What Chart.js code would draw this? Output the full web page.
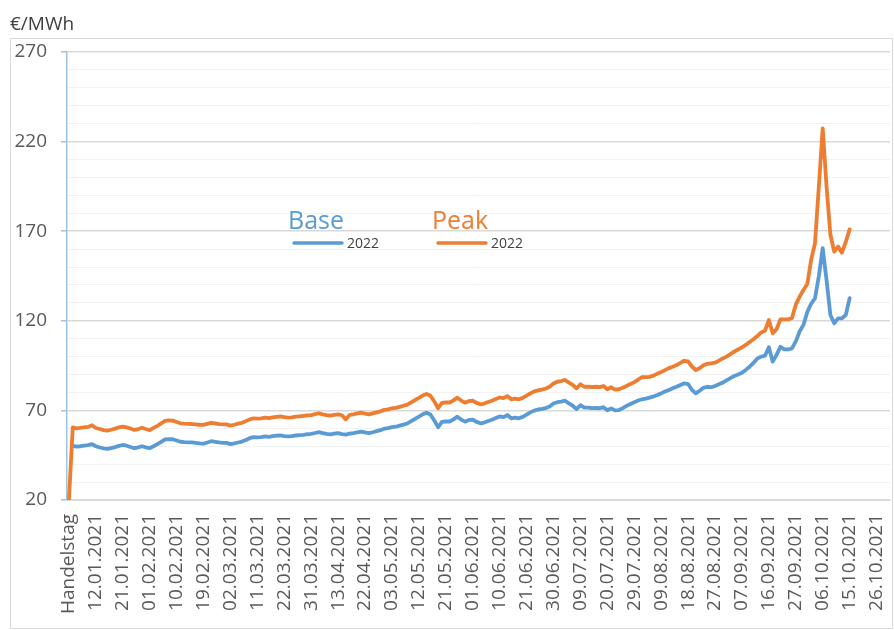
<!DOCTYPE html>
<html>
<head>
<meta charset="utf-8">
<script src="https://cdn.jsdelivr.net/npm/chart.js@4"></script>
<style>
  body { margin: 0; background: #fff; }
  canvas { display: block; }
</style>
</head>
<body>
<canvas id="priceChart" width="894" height="630"></canvas>
<script>
const seriesNames = ['Base', 'Peak'];
const seriesYear = '2022';

const tickLabels = ['Handelstag', '12.01.2021', '21.01.2021', '01.02.2021', '10.02.2021', '19.02.2021',
  '02.03.2021', '11.03.2021', '22.03.2021', '31.03.2021', '13.04.2021', '22.04.2021', '03.05.2021',
  '12.05.2021', '21.05.2021', '01.06.2021', '10.06.2021', '21.06.2021', '30.06.2021', '09.07.2021',
  '20.07.2021', '29.07.2021', '09.08.2021', '18.08.2021', '27.08.2021', '07.09.2021', '16.09.2021',
  '27.09.2021', '06.10.2021', '15.10.2021', '26.10.2021'];

// one value per trading day, first entry is the "Handelstag" slot
const baseValues = [
  null, 50.2, 49.8, 50, 50.4, 50.6, 51.2, 50, 49.3, 48.8,
  48.5, 49, 49.5, 50.2, 50.7, 50.3, 49.6, 48.9, 49.4, 50,
  49.4, 48.9, 50, 51.2, 52.5, 53.8, 54, 53.9, 53.2, 52.5,
  52.3, 52.2, 52.1, 51.9, 51.6, 51.4, 52.1, 52.8, 52.5, 52.1,
  51.9, 51.9, 51.2, 51.6, 52.1, 52.6, 53.5, 54.5, 55.1, 54.9,
  55.1, 55.5, 55.2, 55.6, 55.9, 56.1, 55.7, 55.5, 55.6, 56,
  56.2, 56.4, 56.7, 56.9, 57.4, 57.9, 57.3, 56.9, 56.6, 57,
  57.3, 56.8, 56.5, 57, 57.3, 57.8, 58.2, 57.7, 57.3, 57.8,
  58.4, 59, 59.8, 60.1, 60.7, 60.9, 61.5, 62.1, 62.7, 64,
  65.3, 66.5, 67.8, 68.7, 67.7, 64.4, 60.6, 63.6, 63.8, 63.8,
  65, 66.5, 64.9, 63.7, 64.6, 64.8, 63.6, 62.8, 63.2, 64.1,
  64.8, 65.7, 66.6, 66.2, 67.4, 65.6, 66, 65.6, 66.4, 67.6,
  68.9, 69.9, 70.5, 70.8, 71.3, 72.2, 73.8, 74.6, 74.9, 75.4,
  73.9, 72.6, 70.7, 72.9, 71.5, 71.6, 71.3, 71.4, 71.2, 71.8,
  70.1, 71.1, 70, 70.2, 71.2, 72.5, 73.6, 74.6, 75.5, 76.2,
  76.6, 77.1, 77.8, 78.6, 79.5, 80.5, 81.4, 82.3, 83.2, 84.2,
  85.1, 84.7, 81.5, 79.5, 81, 82.6, 83.2, 82.9, 83.6, 84.6,
  85.5, 86.8, 88, 89.2, 90, 91, 92.6, 94.4, 96.5, 99,
  100, 100.5, 105.2, 97.2, 100.9, 105.5, 104.1, 104, 104.6, 108.5,
  114, 117.7, 125, 129.5, 132.6, 145, 160.5, 142.8, 123.2, 118.6,
  121.4, 121.4, 123.2, 132.6
];

const peakValues = [
  20, 60.5, 60, 60.2, 60.6, 60.8, 61.7, 60.2, 59.6, 59,
  58.7, 59.2, 59.8, 60.5, 61, 60.5, 59.9, 59.1, 59.6, 60.3,
  59.6, 59, 60.2, 61.4, 62.8, 64.1, 64.4, 64.3, 63.5, 62.8,
  62.6, 62.5, 62.4, 62.2, 62, 61.9, 62.5, 63.1, 62.8, 62.4,
  62.2, 62.2, 61.5, 62, 62.6, 63.1, 64, 65, 65.6, 65.4,
  65.6, 66, 65.7, 66.1, 66.4, 66.6, 66.2, 66, 66.1, 66.5,
  66.7, 66.9, 67.2, 67.4, 67.9, 68.4, 67.8, 67.4, 67.1, 67.5,
  67.8, 67.3, 65, 67.5, 67.8, 68.3, 68.7, 68.2, 67.8, 68.3,
  68.9, 69.5, 70.3, 70.6, 71.2, 71.4, 72, 72.6, 73.2, 74.5,
  75.8, 77, 78.3, 79.2, 78.2, 75, 71.2, 74.2, 74.4, 74.4,
  75.6, 77.1, 75.5, 74.3, 75.2, 75.4, 74.2, 73.4, 73.8, 74.7,
  75.4, 76.3, 77.2, 76.8, 78, 76.2, 76.6, 76.2, 77, 78.2,
  79.5, 80.6, 81.2, 81.6, 82.2, 83.2, 85, 86, 86.4, 87,
  85.5, 84.2, 82.3, 84.6, 83.2, 83.3, 83, 83.2, 83, 83.6,
  81.8, 82.9, 81.6, 81.8, 82.6, 83.6, 84.8, 85.7, 87.2, 88.5,
  88.6, 88.7, 89.4, 90.5, 91.4, 92.5, 93.6, 94.4, 95.3, 96.5,
  97.7, 97.3, 94.5, 92.5, 93.5, 95.2, 96, 96.3, 96.6, 97.8,
  99, 100, 101.4, 102.8, 104, 105.2, 106.5, 108.2, 109.7, 111.5,
  113.5, 114.5, 120.4, 113, 115.3, 120.8, 120.8, 120.8, 121.5, 129,
  133.5, 137.2, 140.5, 154, 163.3, 195, 227.4, 195, 168, 158.6,
  161.4, 158, 164, 171
];

const categoryCount = 214;
const labelEvery = 7;

const labels = [];
for (let i = 0; i < categoryCount; i++) {
  labels.push(i % labelEvery === 0 && tickLabels[i / labelEvery] ? tickLabels[i / labelEvery] : '');
}

const FONT = '"Open Sans", sans-serif';
const textColor = '#595959';
const colors = ['#5B9BD5', '#ED7D31'];
const isMajor = v => (v - 20) % 50 === 0;

// title, outer frame and the free-floating legend like the Excel original
const decorations = {
  id: 'decorations',
  beforeDraw(chart) {
    const ctx = chart.ctx;
    ctx.save();
    ctx.fillStyle = '#fff';
    ctx.fillRect(0, 0, chart.width, chart.height);
    ctx.strokeStyle = '#d9d9d9';
    ctx.lineWidth = 1;
    ctx.strokeRect(10.5, 38.5, chart.width - 12, chart.height - 40);
    ctx.fillStyle = '#404040';
    ctx.font = '19px ' + FONT;
    ctx.textBaseline = 'alphabetic';
    ctx.fillText('€/MWh', 10, 30);
    ctx.restore();
  },
  afterDraw(chart) {
    const ctx = chart.ctx;
    const spots = [288, 432];
    ctx.save();
    chart.data.datasets.forEach((ds, k) => {
      const x = spots[k];
      ctx.fillStyle = ds.borderColor;
      ctx.font = '25px ' + FONT;
      ctx.textBaseline = 'alphabetic';
      ctx.fillText(seriesNames[k], x, 229);
      ctx.strokeStyle = ds.borderColor;
      ctx.lineWidth = 3.5;
      ctx.lineCap = 'round';
      ctx.beginPath();
      ctx.moveTo(x + 6, 243);
      ctx.lineTo(x + 54, 243);
      ctx.stroke();
      ctx.fillStyle = '#404040';
      ctx.font = '14px ' + FONT;
      ctx.textBaseline = 'middle';
      ctx.fillText(ds.label, x + 59, 244);
    });
    ctx.restore();
  }
};

new Chart(document.getElementById('priceChart'), {
  type: 'line',
  data: {
    labels: labels,
    datasets: [
      { label: seriesYear, data: baseValues, borderColor: colors[0], order: 1 },
      { label: seriesYear, data: peakValues, borderColor: colors[1], order: 0 }
    ]
  },
  options: {
    responsive: false,
    animation: false,
    layout: { padding: { top: 52, right: 4, left: 0, bottom: 0 } },
    elements: {
      point: { radius: 0 },
      line: { borderWidth: 3.8, tension: 0, borderJoinStyle: 'round', borderCapStyle: 'round', fill: false }
    },
    plugins: {
      legend: { display: false },
      tooltip: { enabled: false }
    },
    scales: {
      x: {
        offset: true,
        grid: { display: false, drawTicks: false },
        border: { display: true, color: '#d9d9d9', width: 1 },
        ticks: {
          autoSkip: false,
          minRotation: 90,
          maxRotation: 90,
          padding: 14,
          color: textColor,
          font: { family: FONT, size: 19 }
        },
        afterFit(scale) {
          scale.height = 130;
          scale.paddingLeft = 0;
          scale.paddingRight = 0;
        }
      },
      y: {
        min: 20,
        max: 270,
        border: { display: true, color: '#9DC3E6', width: 1.5 },
        grid: {
          color: ctx => (isMajor(ctx.tick.value) ? '#d9d9d9' : '#f2f2f2'),
          lineWidth: ctx => (isMajor(ctx.tick.value) ? 1.5 : 1),
          tickColor: ctx => (isMajor(ctx.tick.value) ? '#9DC3E6' : 'rgba(0,0,0,0)'),
          tickLength: 6
        },
        ticks: {
          stepSize: 10,
          maxTicksLimit: 40,
          autoSkip: false,
          padding: 14,
          color: textColor,
          font: { family: FONT, size: 19 },
          callback: v => (isMajor(v) ? v : '')
        },
        afterFit(scale) { scale.width = 67; }
      }
    }
  },
  plugins: [decorations]
});
</script>
</body>
</html>
